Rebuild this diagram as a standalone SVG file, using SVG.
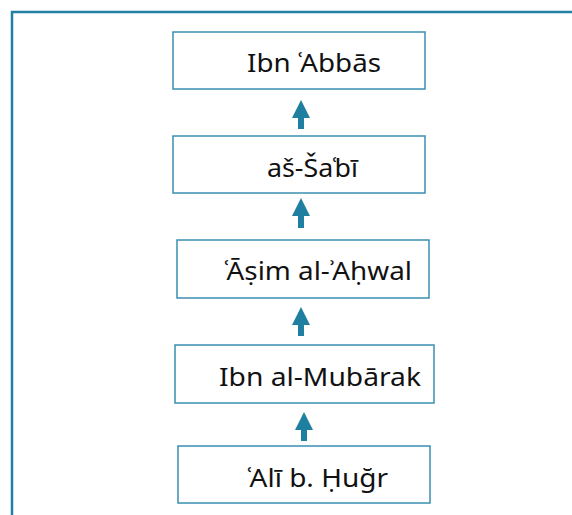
<svg xmlns="http://www.w3.org/2000/svg" width="572" height="515" viewBox="0 0 572 515">
<style>
.frame{fill:none;stroke:#2181a3;stroke-width:2.5}
.box{fill:#fff;stroke:#3a8fb3;stroke-width:1.5}
.lbl{font-family:"Noto Sans","Open Sans",sans-serif;font-size:25.5px;fill:#111}
.arr{fill:#1f7fa1}
</style>
<rect width="572" height="515" fill="#fff"/>
<path class="frame" d="M12 515 V12 H572"/>
<g id="connectors">
<path class="arr" d="M301 100 L310 118 H304 V129 H298 V118 H292 Z"/>
<path class="arr" d="M301 198 L310 216 H304 V228 H298 V216 H292 Z"/>
<path class="arr" d="M301 307 L310 325 H304 V336 H298 V325 H292 Z"/>
<path class="arr" d="M304 412 L313 430 H307 V441 H301 V430 H295 Z"/>
</g>
<g id="n1"><rect class="box" x="173" y="32" width="252" height="57"/><text class="lbl" x="247" y="72" textLength="134" lengthAdjust="spacingAndGlyphs">Ibn ʿ<tspan dx="-2">A</tspan>bbās</text></g>
<g id="n2"><rect class="box" x="173" y="136" width="252" height="57"/><text class="lbl" x="267" y="177" textLength="91" lengthAdjust="spacingAndGlyphs">aš-Ša<tspan dx="-1">ʿ</tspan><tspan dx="-2">b</tspan>ī</text></g>
<g id="n3"><rect class="box" x="177" y="240" width="252" height="58"/><text class="lbl" x="224" y="280" textLength="188" lengthAdjust="spacingAndGlyphs">ʿ<tspan dx="-2">Ā</tspan>ṣim al-ʾ<tspan dx="-2">A</tspan>ḥwal</text></g>
<g id="n4"><rect class="box" x="175" y="345" width="259" height="58"/><text class="lbl" x="219" y="386" textLength="202" lengthAdjust="spacingAndGlyphs">Ibn al-Mubārak</text></g>
<g id="n5"><rect class="box" x="178" y="446" width="252" height="57"/><text class="lbl" x="247" y="487" textLength="141" lengthAdjust="spacingAndGlyphs">ʿ<tspan dx="-2">A</tspan>lī b. Ḥuğr</text></g>
</svg>
